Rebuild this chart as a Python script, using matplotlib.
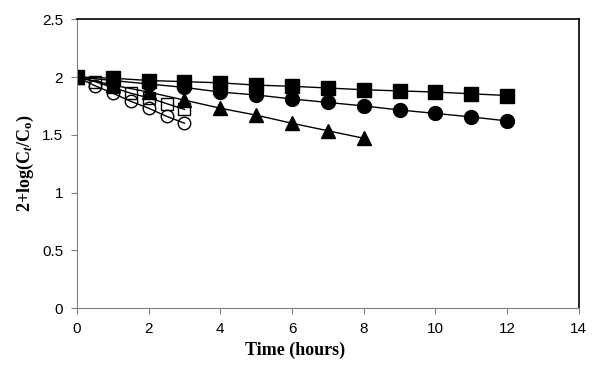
import numpy as np
import matplotlib.pyplot as plt

# data
t_long = [0, 1, 2, 3, 4, 5, 6, 7, 8, 9, 10, 11, 12]
filled_squares = [2.00, 1.99, 1.97, 1.96, 1.95, 1.93, 1.92, 1.905, 1.89, 1.88, 1.87, 1.855, 1.84]
filled_circles = [2.00, 1.97, 1.94, 1.91, 1.87, 1.845, 1.81, 1.78, 1.75, 1.715, 1.685, 1.655, 1.62]

t_mid = [0, 1, 2, 3, 4, 5, 6, 7, 8]
filled_triangles = [2.00, 1.93, 1.87, 1.80, 1.73, 1.67, 1.60, 1.535, 1.47]

t_short = [0, 0.5, 1, 1.5, 2, 2.5, 3]
open_squares = [2.00, 1.96, 1.91, 1.86, 1.82, 1.77, 1.72]
open_circles = [2.00, 1.925, 1.86, 1.79, 1.73, 1.66, 1.60]

plt.rcParams['mathtext.fontset'] = 'custom'
plt.rcParams['mathtext.rm'] = 'Liberation Serif:bold'
plt.rcParams['mathtext.it'] = 'Liberation Serif:italic:bold'
plt.rcParams['mathtext.bf'] = 'Liberation Serif:bold'

fig = plt.figure(figsize=(6.06, 3.86), dpi=100)
ax = fig.add_axes([0.127, 0.202, 0.828, 0.748])

line_kw = dict(color='black', linewidth=1.0)
ax.plot(t_short, open_circles, marker='o', markersize=9, markerfacecolor='none',
        markeredgecolor='black', markeredgewidth=1.0, **line_kw)
ax.plot(t_short, open_squares, marker='s', markersize=9, markerfacecolor='none',
        markeredgecolor='black', markeredgewidth=1.0, **line_kw)
ax.plot(t_mid, filled_triangles, marker='^', markersize=10, markerfacecolor='black',
        markeredgecolor='black', **line_kw)
ax.plot(t_long, filled_circles, marker='o', markersize=10, markerfacecolor='black',
        markeredgecolor='black', **line_kw)
ax.plot(t_long, filled_squares, marker='s', markersize=10, markerfacecolor='black',
        markeredgecolor='black', **line_kw)

ax.set_xlim(0, 14)
ax.set_ylim(0, 2.5)
ax.set_xticks(np.arange(0, 15, 2))
ax.set_yticks(np.arange(0, 2.6, 0.5))
ax.set_yticklabels(['0', '0.5', '1', '1.5', '2', '2.5'])

for side in ['left', 'bottom']:
    ax.spines[side].set_color('#808080')
for side in ['top', 'right']:
    ax.spines[side].set_color('black')
    ax.spines[side].set_linewidth(1.2)

ax.tick_params(axis='both', direction='out', length=4, color='#808080',
               labelsize=11, pad=6)
for lab in ax.get_xticklabels() + ax.get_yticklabels():
    lab.set_fontfamily('Liberation Sans')

ax.set_xlabel('Time (hours)', fontfamily='Liberation Serif', fontweight='bold',
              fontsize=13, labelpad=6)
ax.xaxis.set_label_coords(0.435, -0.115)
ax.set_ylabel(r'2+log(C$_{\mathit{t}}$/C$_{\mathrm{o}}$)', fontfamily='Liberation Serif',
              fontweight='bold', fontsize=13, labelpad=4)

fig.savefig('out.png', dpi=100)
